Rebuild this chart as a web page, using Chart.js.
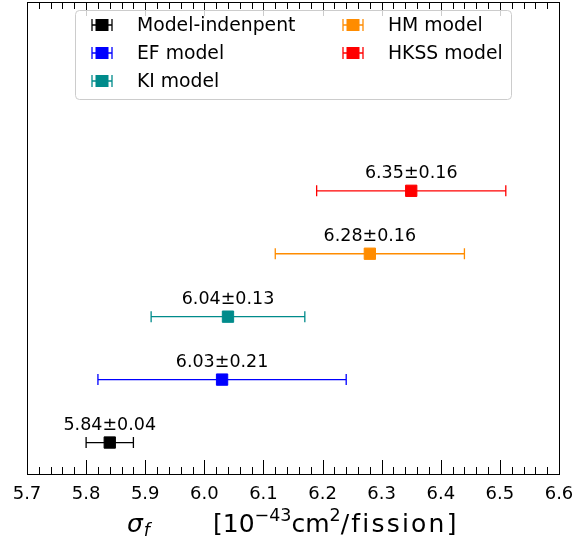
<!DOCTYPE html>
<html>
<head>
<meta charset="utf-8">
<script src="https://cdn.jsdelivr.net/npm/chart.js@4.4.0/dist/chart.umd.min.js"></script>
<style>
  html, body { margin: 0; padding: 0; background: #fff; }
  #wrap { width: 576px; height: 545px; position: relative; }
</style>
</head>
<body>
<div id="wrap"><canvas id="sigmaChart"></canvas></div>
<script>
// data
const models = ['Model-indenpent', 'EF model', 'KI model', 'HM model', 'HKSS model'];
const sigmaValues = [5.84, 6.03, 6.04, 6.28, 6.35];
const sigmaErrors = [0.04, 0.21, 0.13, 0.16, 0.16];
const rowPositions = [1, 2, 3, 4, 5];
const modelColors = ['#000000', '#0000ff', '#008b8b', '#ff8c00', '#ff0000'];
const xTickValues = [5.7, 5.8, 5.9, 6.0, 6.1, 6.2, 6.3, 6.4, 6.5, 6.6];

const FONT = '"DejaVu Sans", sans-serif';

function drawErrorBar(ctx, x0, x1, y, color, cap) {
    ctx.save();
    ctx.strokeStyle = color;
    ctx.lineWidth = 1.3;
    ctx.beginPath();
    ctx.moveTo(x0, y);
    ctx.lineTo(x1, y);
    ctx.moveTo(x0, y - cap);
    ctx.lineTo(x0, y + cap);
    ctx.moveTo(x1, y - cap);
    ctx.lineTo(x1, y + cap);
    ctx.stroke();
    ctx.restore();
}

const errorBarPlugin = {
    id: 'errorBars',
    beforeDatasetsDraw(chart) {
        const ctx = chart.ctx;
        const xs = chart.scales.x, ys = chart.scales.y;
        sigmaValues.forEach((v, i) => {
            const y = ys.getPixelForValue(rowPositions[i]);
            drawErrorBar(ctx, xs.getPixelForValue(v - sigmaErrors[i]), xs.getPixelForValue(v + sigmaErrors[i]), y, modelColors[i], 5.5);
        });
    },
    afterDatasetsDraw(chart) {
        const ctx = chart.ctx;
        const xs = chart.scales.x, ys = chart.scales.y;
        ctx.save();
        ctx.font = '17.5px ' + FONT;
        ctx.fillStyle = '#000';
        ctx.textAlign = 'center';
        ctx.textBaseline = 'alphabetic';
        sigmaValues.forEach((v, i) => {
            const txt = v.toFixed(2) + '\u00b1' + sigmaErrors[i].toFixed(2);
            ctx.fillText(txt, xs.getPixelForValue(v), ys.getPixelForValue(rowPositions[i]) - 13);
        });
        ctx.restore();
    }
};

const framePlugin = {
    id: 'frame',
    afterDraw(chart) {
        const ctx = chart.ctx;
        const a = chart.chartArea;
        const xs = chart.scales.x;
        ctx.save();
        ctx.strokeStyle = '#000';
        ctx.lineWidth = 1;
        // inward ticks top and bottom, minor every 0.02
        ctx.beginPath();
        for (let k = 0; k <= 45; k++) {
            const v = 5.7 + k * 0.02;
            const px = Math.round(xs.getPixelForValue(v)) + 0.5;
            const len = (k % 5 === 0) ? 14 : 7;
            ctx.moveTo(px, a.bottom);
            ctx.lineTo(px, a.bottom - len);
            ctx.moveTo(px, a.top);
            ctx.lineTo(px, a.top + len);
        }
        ctx.stroke();
        ctx.strokeRect(Math.round(a.left) + 0.5, Math.round(a.top) + 0.5, Math.round(a.right - a.left), Math.round(a.bottom - a.top));

        // legend, filled column by column
        const lx = 75.5, ly = 10.5, lw = 436, lh = 89;
        ctx.fillStyle = 'rgba(255,255,255,0.8)';
        ctx.strokeStyle = '#cccccc';
        ctx.beginPath();
        ctx.roundRect(lx, ly, lw, lh, 4);
        ctx.fill();
        ctx.stroke();
        ctx.font = '18.8px ' + FONT;
        ctx.textBaseline = 'middle';
        ctx.textAlign = 'left';
        const colX = [102, 353];
        const textX = [137, 388];
        const rowY = [25, 53, 81];
        models.forEach((m, i) => {
            const c = Math.floor(i / 3), r = i % 3;
            const cx = colX[c], cy = rowY[r];
            drawErrorBar(ctx, cx - 10, cx + 10, cy, modelColors[i], 6);
            ctx.fillStyle = modelColors[i];
            ctx.fillRect(cx - 6.5, cy - 6, 13, 12);
            ctx.fillStyle = '#000';
            ctx.fillText(m, textX[c], cy + 1);
        });

        // x axis title: sigma_f   [10^-43 cm^2/fission]
        const base = 532;
        ctx.textBaseline = 'alphabetic';
        ctx.fillStyle = '#000';
        ctx.font = 'oblique 25px ' + FONT;
        ctx.fillText('\u03c3', 127, base);
        let x = 127 + ctx.measureText('\u03c3').width;
        ctx.font = 'oblique 17.5px ' + FONT;
        ctx.fillText('f', x + 1, base + 4);

        x = 213;
        const parts = [
            ['[10', 25, 0, 0], ['\u221243', 17.5, -11, 0], ['cm', 25, 0, 0], ['2', 17.5, -11, 0], ['/fission]', 25, 0, 2.2]
        ];
        parts.forEach(p => {
            ctx.font = p[1] + 'px ' + FONT;
            ctx.letterSpacing = p[3] + 'px';
            ctx.fillText(p[0], x, base + p[2]);
            x += ctx.measureText(p[0]).width;
        });
        ctx.letterSpacing = '0px';
        ctx.restore();
    }
};

const datasets = models.map((m, i) => ({
    label: m,
    data: [{ x: sigmaValues[i], y: rowPositions[i] }],
    backgroundColor: modelColors[i],
    borderColor: modelColors[i],
    borderWidth: 1,
    pointStyle: 'rect',
    pointRadius: 8,
    pointHoverRadius: 8
}));

new Chart(document.getElementById('sigmaChart'), {
    type: 'scatter',
    data: { datasets: datasets },
    options: {
        responsive: true,
        maintainAspectRatio: false,
        animation: false,
        devicePixelRatio: 1,
        layout: { autoPadding: false, padding: { left: 27, right: 17, top: 2, bottom: 0 } },
        plugins: {
            legend: { display: false },
            tooltip: { enabled: false }
        },
        scales: {
            x: {
                type: 'linear',
                min: 5.7,
                max: 6.6,
                afterFit(scale) {
                    scale.height = 71;
                    scale.paddingLeft = 0;
                    scale.paddingRight = 0;
                },
                afterBuildTicks(scale) { scale.ticks = xTickValues.map(v => ({ value: v })); },
                grid: { display: false, drawTicks: false },
                border: { display: false },
                ticks: {
                    padding: 10,
                    color: '#000',
                    font: { family: FONT, size: 18 },
                    callback: v => v.toFixed(1)
                }
            },
            y: {
                type: 'linear',
                display: false,
                min: 0.5,
                max: 8
            }
        }
    },
    plugins: [errorBarPlugin, framePlugin]
});
</script>
</body>
</html>
